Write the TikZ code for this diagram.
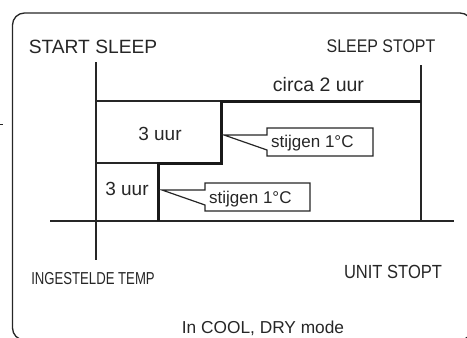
\documentclass[tikz,border=0pt]{standalone}
\usepackage{fontspec}
\setmainfont{Liberation Sans}
\newfontfamily\narrowfont[FakeStretch=0.87]{Liberation Sans}
\newfontfamily\condfont[FakeStretch=0.76]{Liberation Sans}

\tikzset{
  thinline/.style={line width=1.3pt, black!85},
  thickline/.style={line width=3pt, black!90},
  callout/.style={line width=1.2pt, black!85, fill=white},
  txt/.style={inner sep=0pt, anchor=base, text=black!85},
}

\begin{document}
\begin{tikzpicture}[x=1pt,y=-1pt]
    \useasboundingbox (0,0) rectangle (467,338);

    % outer frame, cut off at the right and bottom
    \begin{scope}
    \clip (0,0) rectangle (467,338);
    \draw[thinline, rounded corners=12pt] (12.5,13) rectangle (472,340);
    \draw[line width=1.8pt, black!85] (-1,124.5) -- (2.5,124.5);
    \end{scope}

    % time axes
    \coordinate (sTop) at (96,62);
    \coordinate (sBot) at (96,260);
    \coordinate (eTop) at (421,65);
    \coordinate (eBot) at (421,221);
    \coordinate (bLeft) at (50,221);
    \coordinate (bRight) at (454,221);
    \draw[thinline] (sTop) -- (sBot);
    \draw[thinline] (eTop) -- (eBot);
    \draw[thinline] (bLeft) -- (bRight);

    % temperature steps
    \coordinate (p1) at (158,221);
    \coordinate (p2) at (158,163);
    \coordinate (p3) at (221,163);
    \coordinate (p4) at (221,101);
    \coordinate (p5) at (421,101);
    \draw[thinline] (96,163) -- (p2);
    \draw[thinline] (96,101) -- (p4);
    \draw[thickline] (p1) -- (p2) -- (p3) -- (p4) -- (p5);

    % callouts
    \coordinate (tipA) at (224,135);
    \coordinate (tipB) at (162,190);
    \draw[callout] (tipA) -- (267,135) |- (373,128) |- (267,156) -- (267,150) -- cycle;
    \draw[callout] (tipB) -- (205,190) |- (310,183) |- (205,211) -- (205,205) -- cycle;
    \node[txt, anchor=base west, font=\fontsize{17}{18}\selectfont] (riseA) at (271,147) {stijgen 1°C};
    \node[txt, anchor=base west, font=\fontsize{17}{18}\selectfont] (riseB) at (209,203) {stijgen 1°C};

    % labels
    \node[txt, font=\fontsize{19.2}{20}\selectfont] (start) at (93,53) {START SLEEP};
    \node[txt, font=\fontsize{18.3}{20}\narrowfont] (stop) at (381,52) {SLEEP STOPT};
    \node[txt, font=\fontsize{19.5}{20}\selectfont] (approx) at (318.5,91) {circa 2 uur};
    \node[txt, font=\fontsize{19}{20}\selectfont] (hoursA) at (160,140) {3 uur};
    \node[txt, font=\fontsize{19}{20}\selectfont] (hoursB) at (127,195) {3 uur};
    \node[txt, font=\fontsize{17.3}{18}\condfont] (set) at (93,284) {INGESTELDE TEMP};
    \node[txt, font=\fontsize{19}{20}\narrowfont] (unit) at (393,278) {UNIT STOPT};
    \node[txt, font=\fontsize{17.3}{18}\selectfont] (mode) at (263,333) {In COOL, DRY mode};
\end{tikzpicture}
\end{document}
